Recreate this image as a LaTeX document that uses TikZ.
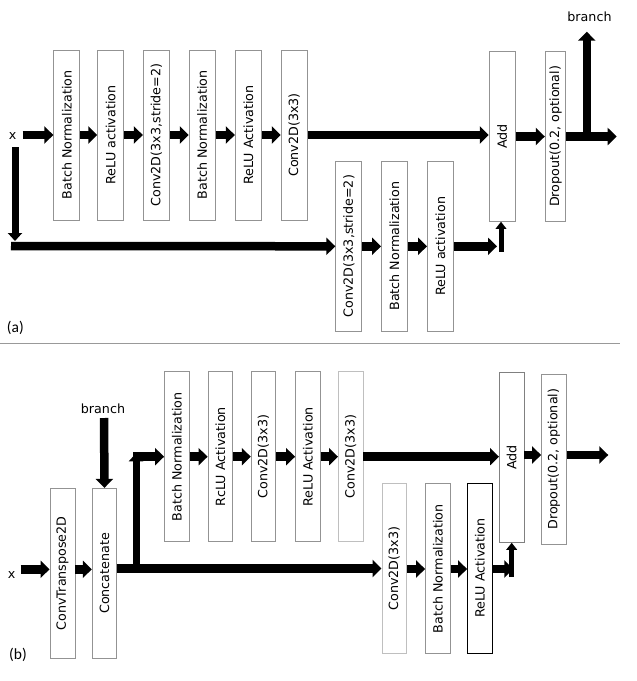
\documentclass[tikz,border=0pt]{standalone}
\usepackage{fontspec}
\newfontfamily\dv{DejaVu Sans}
\newfontfamily\cb{Carlito}
\usetikzlibrary{arrows.meta,calc}
\begin{document}
\begin{tikzpicture}[x=1pt,y=-1pt,
  box/.style={draw=gray!85, line width=0.9pt, fill=white, inner sep=0pt,
    minimum width=26pt, minimum height=170pt, font={\dv\fontsize{12.7}{15}\selectfont}},
  boxn/.style={box, minimum width=24.5pt},
  arr/.style={line width=8.5pt, -{Triangle[length=9pt,width=17pt]}},
  arrv/.style={line width=7pt, -{Triangle[length=8pt,width=14pt]}},
  arrs/.style={line width=5pt, -{Triangle[length=7pt,width=10.5pt]}},
  lbl/.style={font={\dv\fontsize{12.7}{15}\selectfont}, inner sep=0pt},
  partlbl/.style={font={\cb\fontsize{15.5}{18}\selectfont}, inner sep=0pt}]
\useasboundingbox (0,0) rectangle (637,681);
% ---------------- (a) ----------------
\node[box] (a1) at (66.8,135) {\rotatebox{90}{Batch Normalization}};
\node[box] (a2) at (110.7,135) {\rotatebox{90}{ReLU activation}};
\node[box] (a3) at (156.3,135) {\rotatebox{90}{Conv2D(3x3,stride=2)}};
\node[box] (a4) at (202.2,135) {\rotatebox{90}{Batch Normalization}};
\node[box] (a5) at (248.3,135) {\rotatebox{90}{ReLU Activation}};
\node[box] (a6) at (294.2,135) {\rotatebox{90}{Conv2D(3x3)}};
\node[box] (a7) at (348.8,246.3) {\rotatebox{90}{Conv2D(3x3,stride=2)}};
\node[box] (a8) at (394.5,246.3) {\rotatebox{90}{Batch Normalization}};
\node[box] (a9) at (440.5,246.3) {\rotatebox{90}{ReLU activation}};
\node[box] (aadd) at (502.2,136.3) {\rotatebox{90}{Add}};
\node[box, minimum width=20.5pt] (adrop) at (555.5,136.3) {\rotatebox{90}{Dropout(0.2, optional)}};
\node[lbl] (ax) at (12.7,136) {x};
\node[lbl] (abr) at (589.5,17) {branch};
\node[partlbl] (alab) at (15.3,328) {(a)};
\coordinate (ain) at (22.7,135);
\coordinate (adown0) at (15,147);
\coordinate (adown1) at (15,241);
\coordinate (abot) at (11,246);
\coordinate (aout) at (616.7,136.5);
\coordinate (abrs) at (586.8,140.5);
\coordinate (abrt) at (586.8,31.7);
\coordinate (aend) at (497,246.3);
\coordinate (aup) at (501,251.5);
\draw[arr] (ain) -- (a1.west |- ain);
\draw[arr] (a1.east |- ain) -- (a2.west |- ain);
\draw[arr] (a2.east |- ain) -- (a3.west |- ain);
\draw[arr] (a3.east |- ain) -- (a4.west |- ain);
\draw[arr] (a4.east |- ain) -- (a5.west |- ain);
\draw[arr] (a5.east |- ain) -- (a6.west |- ain);
\draw[arr] (a6.east |- ain) -- (aadd.west |- ain);
\draw[arr] (aadd.east |- aout) -- (adrop.west |- aout);
\draw[arr] (adrop.east |- aout) -- (aout);
\draw[arr] (abrs) -- (abrt);
\draw[arrv] (adown0) -- (adown1);
\draw[arr] (abot) -- (a7.west);
\draw[arr] (a7.east) -- (a8.west);
\draw[arr] (a8.east) -- (a9.west);
\draw[arr] (a9.east) -- (aend);
\draw[arrs] (aup) -- (aup |- aadd.south);
% separator
\coordinate (s0) at (0,343);
\coordinate (s1) at (620,343);
\draw[gray!80, line width=1pt] (s0) -- (s1);
% ---------------- (b) ----------------
\node[box, minimum width=25pt] (bct) at (62.5,573.3) {\rotatebox{90}{ConvTranspose2D}};
\node[boxn] (bcc) at (104.5,573.3) {\rotatebox{90}{Concatenate}};
\node[boxn] (b1) at (176.8,456.7) {\rotatebox{90}{Batch Normalization}};
\node[boxn] (b2) at (220.3,456.7) {\rotatebox{90}{RcLU Activation}};
\node[boxn] (b3) at (263.5,456.7) {\rotatebox{90}{Conv2D(3x3)}};
\node[boxn] (b4) at (307.8,456.7) {\rotatebox{90}{ReLU Activation}};
\node[boxn, draw=gray!50] (b5) at (350.7,456.7) {\rotatebox{90}{Conv2D(3x3)}};
\node[boxn, draw=gray] (badd) at (511.7,457.3) {\rotatebox{90}{Add}};
\node[boxn] (bdrop) at (553.8,459.2) {\rotatebox{90}{Dropout(0.2, optional)}};
\node[boxn, draw=gray!50] (c1) at (394.2,568.7) {\rotatebox{90}{Conv2D(3x3)}};
\node[boxn] (c2) at (437.8,568.7) {\rotatebox{90}{Batch Normalization}};
\node[boxn, draw=black] (c3) at (479.8,568) {\rotatebox{90}{ReLU Activation}};
\node[lbl] (bx) at (11.7,575) {x};
\node[lbl] (bbr) at (103,409) {branch};
\node[partlbl] (blab) at (18,655) {(b)};
\coordinate (bin) at (20.7,569.3);
\coordinate (bbrs) at (104,418);
\coordinate (bcl) at (116.7,568.5);
\coordinate (bvs) at (136,572.5);
\coordinate (bvt) at (136,453.3);
\coordinate (btin) at (133.3,456.7);
\coordinate (bout) at (608.3,455);
\coordinate (cend) at (513.3,569);
\coordinate (cup) at (511.7,577);
\draw[arr] (bin) -- (bin -| bct.west);
\draw[arr] (bin -| bct.east) -- (bin -| bcc.west);
\draw[arr] (bbrs) -- (bcc.north);
\draw[arr] (bcl) -- (bcl -| c1.west);
\draw[arrv] (bvs) -- (bvt);
\draw[arr] (btin) -- (btin -| b1.west);
\draw[arr] (b1.east |- btin) -- (b2.west |- btin);
\draw[arr] (b2.east |- btin) -- (b3.west |- btin);
\draw[arr] (b3.east |- btin) -- (b4.west |- btin);
\draw[arr] (b4.east |- btin) -- (b5.west |- btin);
\draw[arr] (b5.east |- btin) -- (badd.west |- btin);
\draw[arr] (badd.east |- bout) -- (bdrop.west |- bout);
\draw[arr] (bdrop.east |- bout) -- (bout);
\draw[arr] (c1.east |- cend) -- (c2.west |- cend);
\draw[arr] (c2.east |- cend) -- (c3.west |- cend);
\draw[arr] (c3.east |- cend) -- (cend);
\draw[arrs] (cup) -- (cup |- badd.south);
\end{tikzpicture}
\end{document}
